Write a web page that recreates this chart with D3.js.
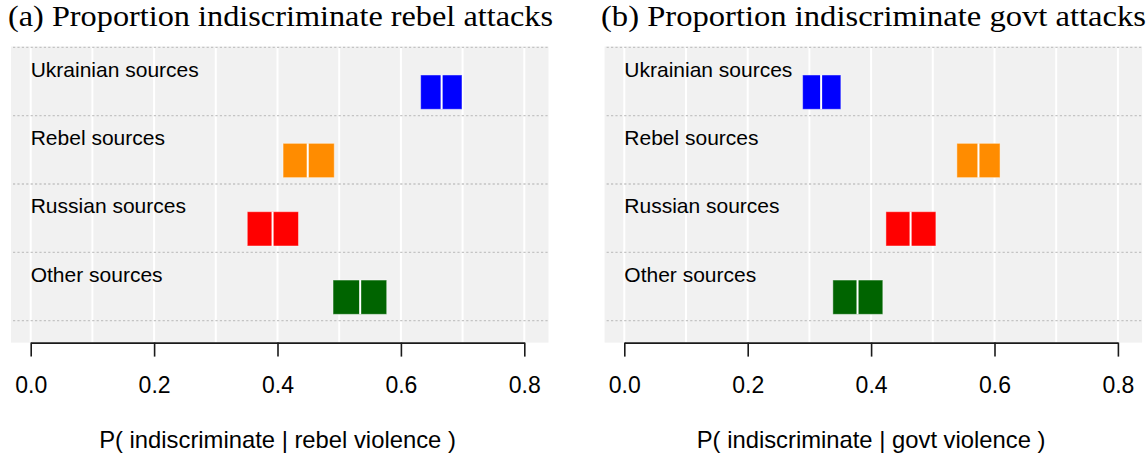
<!DOCTYPE html>
<html>
<head>
<meta charset="utf-8">
<script src="https://cdn.jsdelivr.net/npm/d3@7/dist/d3.min.js"></script>
<style>
  html, body { margin: 0; padding: 0; background: #ffffff; }
  svg { display: block; }
</style>
</head>
<body>
<svg id="chart" width="1146" height="461"></svg>
<script>
// Source groups, drawn top to bottom
const categories = ["Ukrainian sources", "Rebel sources", "Russian sources", "Other sources"];
const groupColors = ["#0000ff", "#ff8c00", "#ff0000", "#006400"];

// Proportion of rebel violence that is indiscriminate: lower, median, upper
const rebelLow  = [0.632, 0.409, 0.351, 0.490];
const rebelMid  = [0.666, 0.449, 0.392, 0.534];
const rebelHigh = [0.699, 0.492, 0.434, 0.577];

// Proportion of government violence that is indiscriminate: lower, median, upper
const govtLow  = [0.289, 0.539, 0.424, 0.338];
const govtMid  = [0.319, 0.574, 0.464, 0.378];
const govtHigh = [0.351, 0.609, 0.505, 0.419];

const tickValues = [0, 0.2, 0.4, 0.6, 0.8];
const tickLabels = ["0.0", "0.2", "0.4", "0.6", "0.8"];
const gridValues = [0, 0.1, 0.2, 0.3, 0.4, 0.5, 0.6, 0.7, 0.8];

const panels = [
  {
    title: "(a) Proportion indiscriminate rebel attacks",
    xlabel: "P( indiscriminate | rebel violence )",
    low: rebelLow, mid: rebelMid, high: rebelHigh,
    left: 30.7, titleX: 8
  },
  {
    title: "(b) Proportion indiscriminate govt attacks",
    xlabel: "P( indiscriminate | govt violence )",
    low: govtLow, mid: govtMid, high: govtHigh,
    left: 624.3, titleX: 601
  }
];

const svg = d3.select("#chart");
const sansFont = "'Liberation Sans', Arial, Helvetica, sans-serif";
const serifFont = "'Liberation Serif', 'Times New Roman', serif";

const pxPerUnit = 617;           // horizontal scale, pixels per unit probability
const rowTop = 47.3;             // y of first dotted separator
const rowHeight = 68.35;
const plotBottom = 342.6;        // axis line / bottom of shaded area

// y in "row units": row i occupies [i, i+1]
const y = d3.scaleLinear().domain([0, 1]).range([rowTop, rowTop + rowHeight]);

panels.forEach(p => {
  const x = d3.scaleLinear()
    .domain([0, 0.8])
    .range([p.left, p.left + 0.8 * pxPerUnit]);

  const g = svg.append("g");

  // shaded plotting region
  const xMinBg = x.invert(p.left - 19.7);
  const xMaxBg = x.invert(p.left + 517.8);
  g.append("rect")
    .attr("x", x(xMinBg))
    .attr("y", y(-0.012))
    .attr("width", x(xMaxBg) - x(xMinBg))
    .attr("height", plotBottom - y(-0.012))
    .attr("fill", "#f1f1f1");

  // vertical white grid
  g.selectAll("line.grid")
    .data(gridValues)
    .join("line")
    .attr("class", "grid")
    .attr("x1", d => x(d)).attr("x2", d => x(d))
    .attr("y1", y(-0.012)).attr("y2", plotBottom)
    .attr("stroke", "#ffffff")
    .attr("stroke-width", 2);

  // dotted row separators
  g.selectAll("line.sep")
    .data(d3.range(categories.length + 1))
    .join("line")
    .attr("class", "sep")
    .attr("x1", x(xMinBg) + 2).attr("x2", x(xMaxBg))
    .attr("y1", d => y(d)).attr("y2", d => y(d))
    .attr("stroke", "#c4c4c4")
    .attr("stroke-width", 1.3)
    .attr("stroke-dasharray", "2.2,2.2");

  // row labels
  g.selectAll("text.rowlab")
    .data(categories)
    .join("text")
    .attr("class", "rowlab")
    .attr("x", x(0))
    .attr("y", (d, i) => y(i) + 29.4)
    .attr("font-family", sansFont)
    .attr("font-size", 21)
    .attr("fill", "#000")
    .text(d => d);

  // interval boxes
  const rows = categories.map((c, i) => ({
    i, lo: p.low[i], mid: p.mid[i], hi: p.high[i], color: groupColors[i]
  }));

  g.selectAll("rect.box")
    .data(rows)
    .join("rect")
    .attr("class", "box")
    .attr("x", d => x(d.lo))
    .attr("y", d => y(d.i + 0.405))
    .attr("width", d => x(d.hi) - x(d.lo))
    .attr("height", d => y(d.i + 0.907) - y(d.i + 0.405))
    .attr("fill", d => d.color)
    .attr("stroke", "rgba(255,255,255,0.45)")
    .attr("stroke-width", 1);

  // medians
  g.selectAll("line.med")
    .data(rows)
    .join("line")
    .attr("class", "med")
    .attr("x1", d => x(d.mid)).attr("x2", d => x(d.mid))
    .attr("y1", d => y(d.i + 0.405)).attr("y2", d => y(d.i + 0.907))
    .attr("stroke", "#ffffff")
    .attr("stroke-width", 2);

  // x axis
  const axis = d3.axisBottom(x)
    .tickValues(tickValues)
    .tickFormat((d, i) => tickLabels[i])
    .tickSize(14)
    .tickSizeOuter(0);

  const ax = g.append("g")
    .attr("transform", `translate(0,${plotBottom})`)
    .call(axis);
  ax.select(".domain").attr("stroke", "#1a1a1a").attr("stroke-width", 1.6);
  ax.selectAll(".tick line").attr("stroke", "#1a1a1a").attr("stroke-width", 1.6);
  ax.selectAll(".tick text")
    .attr("y", 50.8)
    .attr("dy", 0)
    .attr("font-family", sansFont)
    .attr("font-size", 23)
    .attr("fill", "#000");

  // axis title
  g.append("text")
    .attr("x", x(0.4))
    .attr("y", 448)
    .attr("text-anchor", "middle")
    .attr("font-family", sansFont)
    .attr("font-size", 23.8)
    .attr("fill", "#000")
    .text(p.xlabel);

  // panel title
  g.append("text")
    .attr("x", p.titleX)
    .attr("y", 26)
    .attr("font-family", serifFont)
    .attr("font-size", 30)
    .attr("fill", "#000")
    .attr("textLength", 545)
    .attr("lengthAdjust", "spacingAndGlyphs")
    .text(p.title);
});
</script>
</body>
</html>
